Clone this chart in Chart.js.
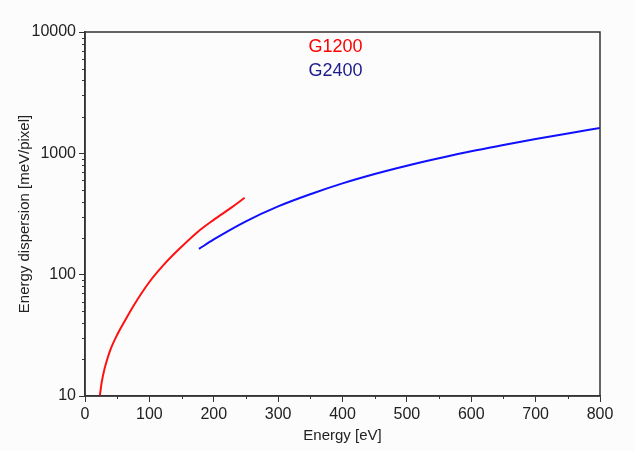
<!DOCTYPE html>
<html>
<head>
<meta charset="utf-8">
<script src="https://cdn.jsdelivr.net/npm/chart.js@4"></script>
<style>
  html, body { margin: 0; padding: 0; background: #fcfcfc; }
  #wrap { width: 634px; height: 451px; }
</style>
</head>
<body>
<div id="wrap"><canvas id="myChart" width="634" height="451"></canvas></div>
<script>
// energy [eV] and dispersion [meV/pixel]
var g1200Energy = [23, 26, 30, 35, 40, 50, 60, 75, 100, 125, 150, 175, 200, 225, 248];
var g1200Disp   = [10, 13, 16.5, 20.5, 24.5, 32, 40, 55, 87, 125, 170, 225, 283, 350, 430];

var g2400Energy = [177, 200, 250, 300, 350, 400, 450, 500, 550, 600, 650, 700, 750, 800];
var g2400Disp   = [163, 195, 275, 365, 460, 565, 675, 790, 910, 1040, 1170, 1310, 1460, 1620];

var seriesLabels = ['G1200', 'G2400'];
var xMin = 0, xMax = 800, xStep = 100;
var yMin = 10, yMax = 10000;
var legendX = 347;

function toPoints(xs, ys) {
    var pts = [];
    for (var i = 0; i < xs.length; i++) pts.push({ x: xs[i], y: ys[i] });
    return pts;
}

var FONT = 'Arial, "Liberation Sans", sans-serif';
var axisColor = '#333333';

// frame, minor ticks and the text legend
var extras = {
    id: 'extras',
    afterDraw: function (chart) {
        var c = chart.ctx, a = chart.chartArea;
        var xs = chart.scales.x, ys = chart.scales.y;
        c.save();
        c.strokeStyle = axisColor;
        c.lineWidth = 1.5;
        c.strokeRect(a.left, a.top, a.right - a.left, a.bottom - a.top);

        c.lineWidth = 1;
        c.beginPath();
        for (var v = xMin + xStep / 2; v < xMax; v += xStep) {
            var px = Math.round(xs.getPixelForValue(v)) + 0.5;
            c.moveTo(px, a.bottom);
            c.lineTo(px, a.bottom + 3);
        }
        for (var d = yMin; d < yMax; d *= 10) {
            for (var k = 2; k <= 9; k++) {
                var py = Math.round(ys.getPixelForValue(d * k)) + 0.5;
                c.moveTo(a.left, py);
                c.lineTo(a.left - 3, py);
            }
        }
        c.stroke();

        c.font = '18px ' + FONT;
        c.textAlign = 'left';
        c.textBaseline = 'middle';
        var lx = xs.getPixelForValue(legendX);
        c.fillStyle = '#ff0000';
        c.fillText(seriesLabels[0], lx, a.top + 15);
        c.fillStyle = '#1c1c8c';
        c.fillText(seriesLabels[1], lx, a.top + 39);
        c.restore();
    }
};

var ctx = document.getElementById('myChart').getContext('2d');
var myChart = new Chart(ctx, {
    type: 'line',
    data: {
        datasets: [{
            label: seriesLabels[0],
            data: toPoints(g1200Energy, g1200Disp),
            borderColor: '#ff1010',
            borderWidth: 2,
            pointRadius: 0,
            cubicInterpolationMode: 'monotone',
            fill: false
        }, {
            label: seriesLabels[1],
            data: toPoints(g2400Energy, g2400Disp),
            borderColor: '#1010ff',
            borderWidth: 2,
            pointRadius: 0,
            cubicInterpolationMode: 'monotone',
            fill: false
        }]
    },
    options: {
        responsive: false,
        animation: false,
        layout: { padding: { left: 8, right: 34, top: 32, bottom: 6 } },
        plugins: {
            legend: { display: false },
            tooltip: { enabled: false }
        },
        scales: {
            x: {
                type: 'linear',
                min: xMin,
                max: xMax,
                afterFit: function (s) { s.height = 49; },
                ticks: {
                    stepSize: xStep,
                    color: '#222',
                    font: { family: FONT, size: 16 },
                    padding: 3
                },
                grid: { drawOnChartArea: false, tickLength: 6, color: axisColor, lineWidth: 1 },
                border: { display: true, color: axisColor, width: 1.5 },
                title: {
                    display: true,
                    text: 'Energy [eV]',
                    color: '#222',
                    font: { family: FONT, size: 15 },
                    padding: { top: 0, bottom: 0 }
                }
            },
            y: {
                type: 'logarithmic',
                min: yMin,
                max: yMax,
                afterFit: function (s) { s.width = 77; },
                afterBuildTicks: function (s) {
                    var t = [];
                    for (var v = yMin; v <= yMax; v *= 10) t.push({ value: v });
                    s.ticks = t;
                },
                ticks: {
                    color: '#222',
                    font: { family: FONT, size: 16 },
                    padding: 3,
                    callback: function (v) { return String(v); }
                },
                grid: { drawOnChartArea: false, tickLength: 6, color: axisColor, lineWidth: 1 },
                border: { display: true, color: axisColor, width: 1.5 },
                title: {
                    display: true,
                    text: 'Energy dispersion [meV/pixel]',
                    color: '#222',
                    font: { family: FONT, size: 15 },
                    padding: { top: 8, bottom: 0 }
                }
            }
        }
    },
    plugins: [extras]
});
</script>
</body>
</html>
